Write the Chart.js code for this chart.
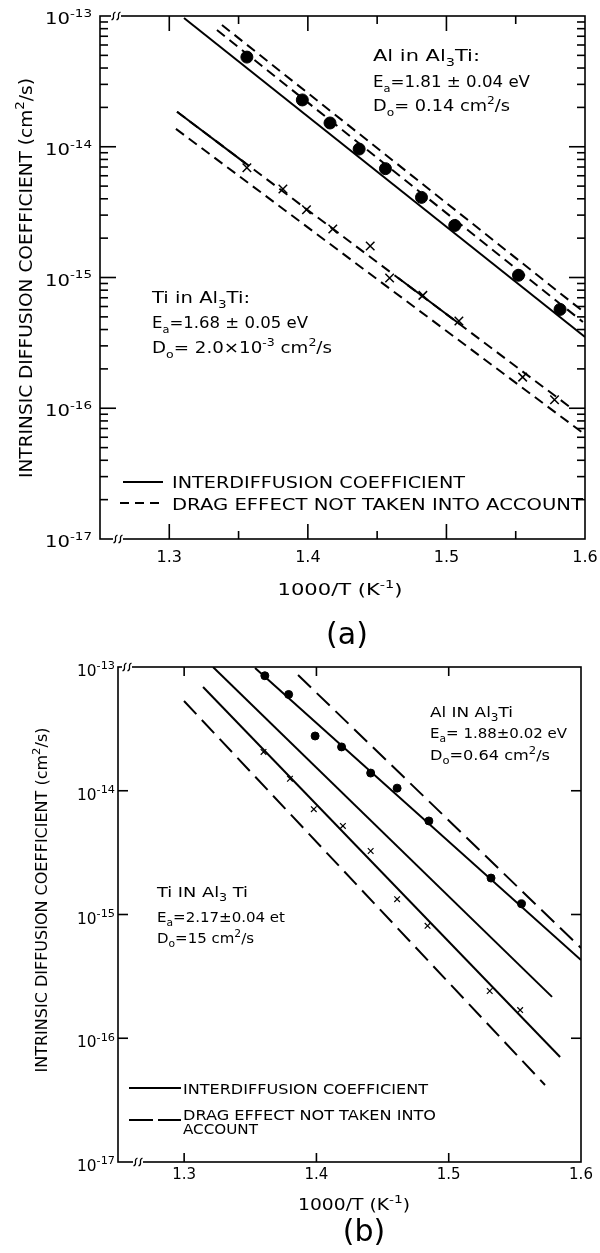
<!DOCTYPE html>
<html>
<head>
<meta charset="utf-8">
<script src="https://cdn.jsdelivr.net/npm/chart.js@4.4.1/dist/chart.umd.min.js"></script>
<style>
    html, body { margin: 0; padding: 0; background: #fff; }
    canvas { display: block; }
</style>
</head>
<body>
<canvas id="chart-a" width="600" height="650"></canvas>
<canvas id="chart-b" width="600" height="603"></canvas>
<script>
// axis ranges and ticks (both panels)
const xMin = 1.25, xMax = 1.6;
const yMin = 1e-17, yMax = 1e-13;
const xTickValues = [1.3, 1.4, 1.5, 1.6];
const xTickLabels = ['1.3', '1.4', '1.5', '1.6'];
const xMinorValues = [1.35, 1.45, 1.55];
const yDecadeExps = [-13, -14, -15, -16, -17];

// ---- panel (a) ----
const alDotsXA = [1.356, 1.396, 1.416, 1.437, 1.456, 1.482, 1.506, 1.552, 1.582];
const alDotsYA = [4.85e-14, 2.28e-14, 1.52e-14, 9.6e-15, 6.8e-15, 4.1e-15, 2.5e-15, 1.04e-15, 5.7e-16];
const tiCrossXA = [1.356, 1.382, 1.399, 1.418, 1.445, 1.459, 1.483, 1.509, 1.555, 1.578];
const tiCrossYA = [6.9e-15, 4.75e-15, 3.3e-15, 2.35e-15, 1.74e-15, 9.9e-16, 7.3e-16, 4.65e-16, 1.73e-16, 1.16e-16];

const alSolidXA = [1.3106, 1.6];
const alSolidYA = [9.66e-14, 3.51e-16];
const alDragUpXA = [1.338, 1.6];
const alDragUpYA = [8.54e-14, 5.36e-16];
const alDragLoXA = [1.3344, 1.5985];
const alDragLoYA = [7.81e-14, 4.57e-16];
const tiSolidLeftXA = [1.3056, 1.355];
const tiSolidLeftYA = [1.85e-14, 7.46e-15];
const tiSolidRightXA = [1.465, 1.51];
const tiSolidRightYA = [9.95e-16, 4.37e-16];
const tiDragUpXA = [1.3056, 1.5892];
const tiDragUpYA = [1.85e-14, 1.02e-16];
const tiDragLoXA = [1.3048, 1.5985];
const tiDragLoYA = [1.37e-14, 6.47e-17];

// ---- panel (b) ----
const alDotsXB = [1.361, 1.379, 1.399, 1.419, 1.441, 1.461, 1.485, 1.532, 1.555];
const alDotsYB = [8.5e-14, 6.0e-14, 2.77e-14, 2.26e-14, 1.39e-14, 1.05e-14, 5.7e-15, 1.97e-15, 1.22e-15];
const tiCrossXB = [1.360, 1.380, 1.398, 1.420, 1.441, 1.461, 1.484, 1.531, 1.554];
const tiCrossYB = [2.06e-14, 1.25e-14, 7.1e-15, 5.2e-15, 3.26e-15, 1.33e-15, 8.1e-16, 2.41e-16, 1.69e-16];

const alDragXB = [1.3861, 1.6];
const alDragYB = [8.61e-14, 5.36e-16];
const alSolidXB = [1.3536, 1.6];
const alSolidYB = [9.82e-14, 4.29e-16];
const interSolidXB = [1.3218, 1.5781];
const interSolidYB = [1.0e-13, 2.16e-16];
const tiSolidXB = [1.3143, 1.5842];
const tiSolidYB = [6.89e-14, 7.05e-17];
const tiDragXB = [1.2999, 1.5728];
const tiDragYB = [5.31e-14, 4.19e-17];

const FONT = '"DejaVu Sans"';

// text with _{sub} and ^{sup} parts
function richParts(str) {
    const parts = [];
    const re = /([_^])\{([^}]*)\}/g;
    let last = 0, m;
    while ((m = re.exec(str))) {
        if (m.index > last) parts.push({ t: str.slice(last, m.index), k: '' });
        parts.push({ t: m[2], k: m[1] === '_' ? 'sub' : 'sup' });
        last = re.lastIndex;
    }
    if (last < str.length) parts.push({ t: str.slice(last), k: '' });
    return parts;
}

function drawRich(ctx, str, x, y, size, align, width) {
    const parts = richParts(str);
    const fontFor = k => (k ? Math.round(size * 0.7) : size) + 'px ' + FONT;
    let total = 0;
    parts.forEach(p => {
        ctx.font = fontFor(p.k);
        p.w = ctx.measureText(p.t).width;
        total += p.w;
    });
    const sx = width ? width / total : 1;
    const drawn = total * sx;
    const start = align === 'center' ? x - drawn / 2 : align === 'right' ? x - drawn : x;
    ctx.save();
    ctx.translate(start, y);
    ctx.scale(sx, 1);
    ctx.fillStyle = '#000';
    ctx.textAlign = 'left';
    ctx.textBaseline = 'alphabetic';
    let cx = 0;
    parts.forEach(p => {
        ctx.font = fontFor(p.k);
        const dy = p.k === 'sup' ? -size * 0.45 : p.k === 'sub' ? size * 0.3 : 0;
        ctx.fillText(p.t, cx, dy);
        cx += p.w;
    });
    ctx.restore();
}

function seg(ctx, x1, y1, x2, y2) {
    ctx.beginPath();
    ctx.moveTo(x1, y1);
    ctx.lineTo(x2, y2);
    ctx.stroke();
}

function drawBreak(ctx, x, y) {
    ctx.save();
    ctx.fillStyle = '#fff';
    ctx.fillRect(x - 5, y - 2, 10, 4);
    ctx.strokeStyle = '#000';
    ctx.lineWidth = 1.2;
    [-2.5, 2.5].forEach(dx => {
        ctx.beginPath();
        ctx.moveTo(x + dx - 2, y + 4);
        ctx.bezierCurveTo(x + dx + 3, y + 2, x + dx - 3, y - 2, x + dx + 2, y - 4);
        ctx.stroke();
    });
    ctx.restore();
}

// frame, ticks, labels, legend and notes in the style of the paper figure
function paperAxes(deco) {
    return {
        id: 'paperAxes',
        afterDraw(chart) {
            const ctx = chart.ctx;
            const { left, right, top, bottom } = chart.chartArea;
            const xs = chart.scales.x, ys = chart.scales.y;
            ctx.save();
            ctx.strokeStyle = '#000';
            ctx.lineWidth = deco.frameWidth;
            ctx.strokeRect(left, top, right - left, bottom - top);

            // y ticks
            yDecadeExps.forEach(e => {
                const py = ys.getPixelForValue(Math.pow(10, e));
                if (e > -17 && e < -13) {
                    seg(ctx, left, py, left + deco.major, py);
                    seg(ctx, right - deco.major, py, right, py);
                }
                if (deco.yMinor && e < -13) {
                    for (let m = 2; m <= 9; m++) {
                        const pm = ys.getPixelForValue(m * Math.pow(10, e));
                        seg(ctx, left, pm, left + deco.minor, pm);
                        seg(ctx, right - deco.minor, pm, right, pm);
                    }
                }
                drawRich(ctx, '10^{' + e + '}', deco.yLab.x, py + deco.yLab.dy, deco.yLab.size, 'right', deco.yLab.width);
            });

            // x ticks
            xTickValues.forEach((v, i) => {
                const px = xs.getPixelForValue(v);
                if (v < xMax) {
                    seg(ctx, px, bottom, px, bottom - deco.xMajor);
                    seg(ctx, px, top, px, top + deco.xMajor);
                }
                drawRich(ctx, xTickLabels[i], px, bottom + deco.xLab.dy, deco.xLab.size, 'center');
            });
            if (deco.xMinor) {
                xMinorValues.forEach(v => {
                    const px = xs.getPixelForValue(v);
                    seg(ctx, px, bottom, px, bottom - deco.minor);
                    seg(ctx, px, top, px, top + deco.minor);
                });
            }

            deco.breaks.forEach(b => drawBreak(ctx, b[0], b[1] === 'top' ? top : bottom));

            // axis titles
            const t = deco.xTitle;
            drawRich(ctx, '1000/T (K^{-1})', t.x, t.y, t.size, 'center', t.width);
            const yt = deco.yTitle;
            ctx.save();
            ctx.translate(yt.x, yt.y);
            ctx.rotate(-Math.PI / 2);
            drawRich(ctx, 'INTRINSIC DIFFUSION COEFFICIENT (cm^{2}/s)', 0, 0, yt.size, 'center', yt.width);
            ctx.restore();

            // legend
            ctx.lineWidth = deco.lineWidth;
            deco.legend.forEach(l => {
                ctx.setLineDash(l.dash);
                seg(ctx, l.x1, l.y, l.x2, l.y);
                ctx.setLineDash([]);
                l.lines.forEach(tl => drawRich(ctx, tl[0], deco.legendTextX, tl[1], deco.legendSize, 'left', tl[2]));
            });

            // notes
            deco.notes.forEach(n => drawRich(ctx, n[0], n[1], n[2], deco.noteSize, 'left', n[3]));

            drawRich(ctx, deco.tag[0], deco.tag[1], deco.tag[2], 30, 'center');
            ctx.restore();
        }
    };
}

function lineSet(xv, yv, dash, width) {
    return {
        data: xv.map((x, i) => ({ x: x, y: yv[i] })),
        showLine: true,
        borderColor: '#000',
        borderWidth: width,
        borderDash: dash,
        pointRadius: 0,
        fill: false
    };
}

function dotSet(xv, yv, style, r, bw) {
    return {
        data: xv.map((x, i) => ({ x: x, y: yv[i] })),
        showLine: false,
        pointStyle: style,
        pointRadius: r,
        pointBackgroundColor: '#000',
        pointBorderColor: '#000',
        pointBorderWidth: bw
    };
}

function makeChart(id, padding, datasets, deco) {
    return new Chart(document.getElementById(id), {
        type: 'scatter',
        data: { datasets: datasets },
        options: {
            responsive: false,
            animation: false,
            devicePixelRatio: 1,
            events: [],
            layout: { padding: padding },
            plugins: { legend: { display: false }, tooltip: { enabled: false } },
            scales: {
                x: { type: 'linear', min: xMin, max: xMax, display: false },
                y: { type: 'logarithmic', min: yMin, max: yMax, display: false }
            }
        },
        plugins: [paperAxes(deco)]
    });
}

const dashA = [10, 6];
const dashB = [18, 8];

makeChart('chart-a', { left: 100, top: 16, right: 15, bottom: 111 }, [
    dotSet(alDotsXA, alDotsYA, 'circle', 6, 1),
    dotSet(tiCrossXA, tiCrossYA, 'crossRot', 6, 1.5),
    lineSet(alSolidXA, alSolidYA, [], 2),
    lineSet(alDragUpXA, alDragUpYA, dashA, 2),
    lineSet(alDragLoXA, alDragLoYA, dashA, 2),
    lineSet(tiSolidLeftXA, tiSolidLeftYA, [], 2),
    lineSet(tiSolidRightXA, tiSolidRightYA, [], 2),
    lineSet(tiDragUpXA, tiDragUpYA, dashA, 2),
    lineSet(tiDragLoXA, tiDragLoYA, dashA, 2)
], {
    frameWidth: 1.6, lineWidth: 2,
    major: 16, minor: 8, xMajor: 15, yMinor: true, xMinor: true,
    yLab: { x: 92, dy: 8, size: 16, width: 47 },
    xLab: { dy: 23, size: 16 },
    xTitle: { x: 340, y: 595, size: 16, width: 125 },
    yTitle: { x: 32, y: 278, size: 18, width: 400 },
    breaks: [[116, 'top'], [118, 'bottom']],
    legendTextX: 172, legendSize: 16,
    legend: [
        { x1: 123, x2: 163, y: 482, dash: [], lines: [['INTERDIFFUSION COEFFICIENT', 488, 293]] },
        { x1: 120, x2: 165, y: 503, dash: [9, 6], lines: [['DRAG EFFECT NOT TAKEN INTO ACCOUNT', 510, 411]] }
    ],
    noteSize: 16,
    notes: [
        ['Al in Al_{3}Ti:', 373, 61, 107],
        ['E_{a}=1.81 ± 0.04 eV', 373, 87, 157],
        ['D_{o}= 0.14 cm^{2}/s', 373, 111, 137],
        ['Ti in Al_{3}Ti:', 152, 303, 98],
        ['E_{a}=1.68 ± 0.05 eV', 152, 328, 156],
        ['D_{o}= 2.0×10^{-3} cm^{2}/s', 152, 353, 180]
    ],
    tag: ['(a)', 347, 644]
});

makeChart('chart-b', { left: 118, top: 17, right: 19, bottom: 91 }, [
    dotSet(alDotsXB, alDotsYB, 'circle', 4, 1),
    dotSet(tiCrossXB, tiCrossYB, 'crossRot', 4, 1.2),
    lineSet(alDragXB, alDragYB, dashB, 2),
    lineSet(alSolidXB, alSolidYB, [], 2),
    lineSet(interSolidXB, interSolidYB, [], 2),
    lineSet(tiSolidXB, tiSolidYB, [], 2),
    lineSet(tiDragXB, tiDragYB, dashB, 2)
], {
    frameWidth: 1.6, lineWidth: 2,
    major: 10, minor: 0, xMajor: 9, yMinor: false, xMinor: false,
    yLab: { x: 115, dy: 9, size: 15, width: 38 },
    xLab: { dy: 17, size: 15 },
    xTitle: { x: 354, y: 560, size: 15, width: 112 },
    yTitle: { x: 47, y: 250, size: 15, width: 345 },
    breaks: [[127, 'top'], [138, 'bottom']],
    legendTextX: 183, legendSize: 14,
    legend: [
        { x1: 129, x2: 181, y: 438, dash: [], lines: [['INTERDIFFUSION COEFFICIENT', 444, 245]] },
        { x1: 129, x2: 181, y: 470, dash: [24, 5], lines: [['DRAG EFFECT NOT TAKEN INTO', 470, 253], ['ACCOUNT', 484, 75]] }
    ],
    noteSize: 14,
    notes: [
        ['Al IN Al_{3}Ti', 430, 67, 83],
        ['E_{a}= 1.88±0.02 eV', 430, 88, 137],
        ['D_{o}=0.64 cm^{2}/s', 430, 110, 120],
        ['Ti IN Al_{3} Ti', 157, 247, 91],
        ['E_{a}=2.17±0.04 et', 157, 272, 128],
        ['D_{o}=15 cm^{2}/s', 157, 293, 97]
    ],
    tag: ['(b)', 364, 591]
});
</script>
</body>
</html>
